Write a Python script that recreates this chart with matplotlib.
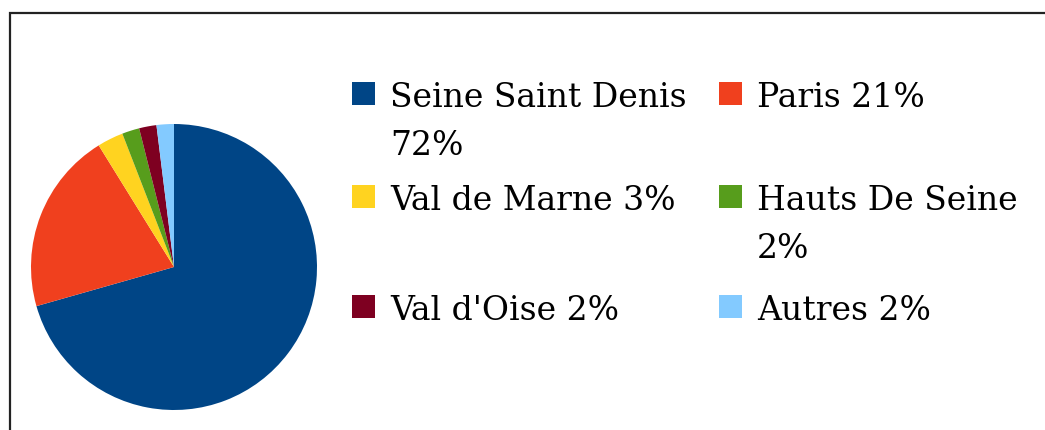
import matplotlib
matplotlib.use("Agg")
import matplotlib.pyplot as plt
from matplotlib.patches import Rectangle

# répartition par département (en %)
labels = ["Seine Saint Denis\n72%", "Paris 21%", "Val de Marne 3%",
          "Hauts De Seine\n2%", "Val d'Oise 2%", "Autres 2%"]
parts = [72, 21, 3, 2, 2, 2]
colors = ["#004586", "#f0401e", "#ffd320", "#579d1c", "#7e0021", "#83caff"]

W, H = 1045, 430
fig = plt.figure(figsize=(W / 100, H / 100), dpi=100)

# cadre autour du graphique
fig.add_artist(Rectangle((10 / W, -0.1), 1.2, 1 - 13 / H + 0.1,
                         transform=fig.transFigure, fill=False,
                         edgecolor="#222222", linewidth=1.6))

# camembert
cx, cy, r = 174, 267, 143
ax = fig.add_axes([(cx - r) / W, (H - cy - r) / H, 2 * r / W, 2 * r / H])
ax.pie(parts, colors=colors, startangle=90, counterclock=False, radius=1,
       wedgeprops=dict(linewidth=0))
ax.set_xlim(-1, 1)
ax.set_ylim(-1, 1)
ax.set_aspect("equal")
ax.axis("off")

# légende sur deux colonnes (y = ligne de base de la première ligne)
col_x = [352, 719]
row_y = [107, 210, 320]
line_h = 48
for i, (lab, c) in enumerate(zip(labels, colors)):
    x = col_x[i % 2]
    y = row_y[i // 2]
    fig.add_artist(Rectangle((x / W, 1 - (y - 2) / H), 23 / W, 23 / H,
                             transform=fig.transFigure, facecolor=c,
                             edgecolor="none"))
    for k, line in enumerate(lab.split("\n")):
        fig.text((x + 38) / W, 1 - (y + k * line_h) / H, line,
                 fontsize=23.8, family="DejaVu Serif",
                 va="baseline", ha="left")

fig.savefig("out.png", dpi=100)
